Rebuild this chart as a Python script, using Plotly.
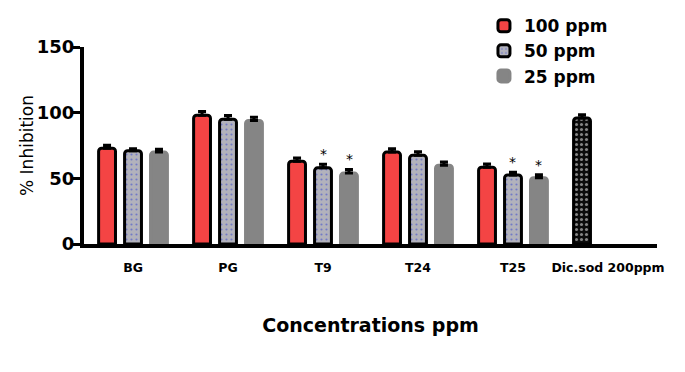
import plotly.graph_objects as go

categories = ["BG", "PG", "T9", "T24", "T25", "Dic.sod 200ppm"]
ppm100 = [73, 98, 63, 70, 58.5, 96]
ppm100_err = [2.2, 2.8, 2.5, 2.5, 2.5, 2.5]
ppm50 = [71, 95, 58, 67.5, 52.5, None]
ppm50_err = [1.5, 2.8, 2.8, 2.8, 2.2, None]
ppm25 = [70, 94, 54, 60, 50.5, None]
ppm25_err = [2.2, 2.5, 2.8, 2.5, 2.2, None]
significant = [("T9", "50 ppm"), ("T9", "25 ppm"), ("T25", "50 ppm"), ("T25", "25 ppm")]

RED = "#f44444"
GREY50 = "#b2b2bc"
GREY25 = "#858585"
FONT = "DejaVu Sans, Arial, sans-serif"

fig = go.Figure()

is_ref = [c.startswith("Dic") for c in categories]
fig.add_trace(go.Bar(
    name="100 ppm", x=categories, y=ppm100, legendgroup="g100",
    marker=dict(
        color=["#0c0c0c" if r else RED for r in is_ref],
        line=dict(color="black", width=3),
        pattern=dict(
            shape=["." if r else "" for r in is_ref],
            fgcolor="#9a1c1c",
            size=5, solidity=0.3, fillmode="overlay"),
        cornerradius=3),
    error_y=dict(type="data", array=ppm100_err, arrayminus=[0]*6, symmetric=False,
                 color="black", thickness=3, width=4),
))
fig.add_trace(go.Bar(
    name="50 ppm", x=categories, y=ppm50, legendgroup="g50",
    marker=dict(
        color=GREY50,
        line=dict(color="black", width=3),
        pattern=dict(shape=".", fgcolor="#3040d0", size=5, solidity=0.15,
                     fillmode="overlay"),
        cornerradius=3),
    error_y=dict(type="data", array=ppm50_err, arrayminus=[0]*6, symmetric=False,
                 color="black", thickness=3, width=4),
))
fig.add_trace(go.Bar(
    name="25 ppm", x=categories, y=ppm25, legendgroup="g25",
    marker=dict(color=GREY25, line=dict(color=GREY25, width=3), cornerradius=3),
    error_y=dict(type="data", array=ppm25_err, arrayminus=[0]*6, symmetric=False,
                 color="black", thickness=3, width=4),
))

slot_shift = {"100 ppm": -26, "50 ppm": 0, "25 ppm": 26}
series = {"100 ppm": (ppm100, ppm100_err), "50 ppm": (ppm50, ppm50_err), "25 ppm": (ppm25, ppm25_err)}
for cat, s in significant:
    i = categories.index(cat)
    vals, errs = series[s]
    fig.add_annotation(x=cat, y=vals[i] + errs[i], xref="x", yref="y", text="*",
                       showarrow=False, xshift=slot_shift[s], yanchor="bottom", yshift=0,
                       font=dict(family=FONT, size=14, color="black"))

fig.update_layout(
    width=677, height=364,
    margin=dict(l=76, r=28, t=39, b=128, autoexpand=False),
    paper_bgcolor="white", plot_bgcolor="white",
    barmode="group", bargap=0.18, bargroupgap=0.35,
    font=dict(family=FONT, color="black"),
    showlegend=True,
    legend=dict(x=0.698, y=1.197, xanchor="left", yanchor="top",
                font=dict(family=FONT, size=17, color="black", weight="bold"),
                bgcolor="rgba(0,0,0,0)", itemwidth=30, tracegroupgap=4,
                traceorder="normal"),
    xaxis=dict(
        type="category", range=[-0.516, 5.516],
        showline=True, linecolor="black", linewidth=4,
        ticks="", tickfont=dict(family=FONT, size=12.5, color="black", weight="bold"),
        ticklabelstandoff=9, automargin=False,
        title=dict(text="Concentrations ppm", standoff=46,
                   font=dict(family=FONT, size=19, color="black", weight="bold")),
        showgrid=False, zeroline=False,
    ),
    yaxis=dict(
        range=[0, 150], tickvals=[0, 50, 100, 150],
        showline=True, linecolor="black", linewidth=4,
        ticks="outside", ticklen=7, tickwidth=3, tickcolor="black",
        tickfont=dict(family=FONT, size=18, color="black", weight="bold"),
        ticklabelstandoff=-5,
        automargin=False,
        title=dict(text="% Inhibition", standoff=0,
                   font=dict(family=FONT, size=17, color="black")),
        showgrid=False, zeroline=False,
    ),
)

fig.write_html("out.html")
